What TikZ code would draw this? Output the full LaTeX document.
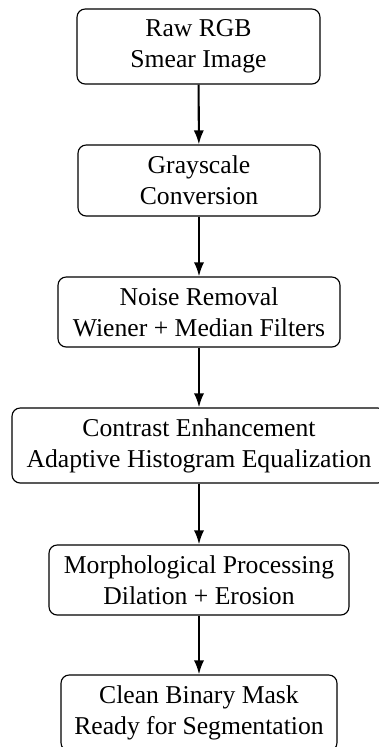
\documentclass[tikz,border=0pt]{standalone}
\usepackage{fontspec}
\setmainfont{Liberation Serif}
\usetikzlibrary{arrows.meta}
\begin{document}
\begin{tikzpicture}[x=0.3896pt,y=-0.3896pt,
  stagebox/.style={draw, line width=0.45pt, rounded corners=3.2pt, align=center, inner sep=0pt,
    font=\fontsize{10}{12.1}\selectfont},
  flowarrow/.style={-{Latex[length=5.5pt,width=4pt]}, line width=0.8pt}]
\useasboundingbox (0,0) rectangle (379,747);
\begin{scope}
\clip (0,0) rectangle (379,747);
\node[stagebox, minimum width=243*0.3896pt, minimum height=75*0.3896pt] (raw) at (198.5,46.5) {Raw RGB\\Smear Image};
\node[stagebox, minimum width=242*0.3896pt, minimum height=71*0.3896pt] (gray) at (199,180.5) {Grayscale\\Conversion};
\node[stagebox, minimum width=282*0.3896pt, minimum height=70*0.3896pt] (noise) at (199,312) {Noise Removal\\Wiener + Median Filters};
\node[stagebox, minimum width=374*0.3896pt, minimum height=75*0.3896pt] (contrast) at (199,445.5) {Contrast Enhancement\\Adaptive Histogram Equalization};
\node[stagebox, minimum width=300*0.3896pt, minimum height=70*0.3896pt] (morph) at (199,580) {Morphological Processing\\Dilation + Erosion};
\node[stagebox, minimum width=276*0.3896pt, minimum height=76*0.3896pt] (mask) at (199,713) {Clean Binary Mask\\Ready for Segmentation};
\draw[flowarrow] (raw) -- (gray);
\draw[flowarrow] (gray) -- (noise);
\draw[flowarrow] (noise) -- (contrast);
\draw[flowarrow] (contrast) -- (morph);
\draw[flowarrow] (morph) -- (mask);
\end{scope}
\end{tikzpicture}
\end{document}
